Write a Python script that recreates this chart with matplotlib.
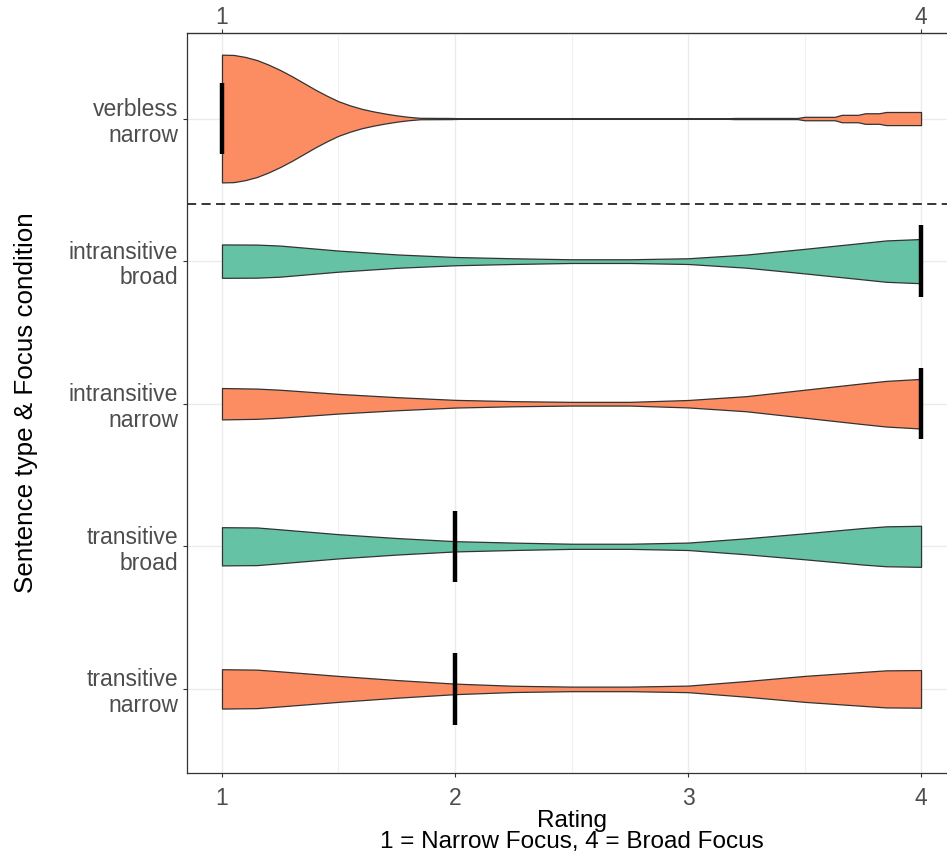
import numpy as np
import matplotlib.pyplot as plt

plt.rcParams['font.family'] = ['Liberation Sans', 'DejaVu Sans']

# categories, bottom to top
labels = ['transitive\nnarrow', 'transitive\nbroad', 'intransitive\nnarrow',
          'intransitive\nbroad', 'verbless\nnarrow']
focus = ['narrow', 'broad', 'narrow', 'broad', 'narrow']
medians = [2, 2, 4, 4, 1]

# violin half-widths (in category units) at these ratings
rating = [1.0, 1.15, 1.25, 1.5, 1.75, 2.0, 2.25, 2.5, 2.75, 3.0, 3.25, 3.5, 3.75, 3.85, 4.0]
trans_narrow = [0.138, 0.135, 0.123, 0.091, 0.062, 0.037, 0.022, 0.016, 0.016, 0.023, 0.055, 0.091, 0.119, 0.130, 0.132]
trans_broad = [0.134, 0.132, 0.119, 0.085, 0.058, 0.036, 0.026, 0.018, 0.018, 0.026, 0.056, 0.091, 0.128, 0.140, 0.144]
intr_narrow = [0.110, 0.106, 0.098, 0.069, 0.046, 0.027, 0.018, 0.013, 0.013, 0.026, 0.053, 0.098, 0.143, 0.160, 0.174]
intr_broad = [0.117, 0.116, 0.109, 0.074, 0.047, 0.029, 0.020, 0.013, 0.013, 0.020, 0.046, 0.086, 0.128, 0.145, 0.155]

# verbless is very skewed, so it gets its own grid
rating_vb = [1.0, 1.05, 1.1, 1.15, 1.2, 1.25, 1.3, 1.35, 1.4, 1.45, 1.5, 1.55, 1.6, 1.65,
             1.7, 1.75, 1.8, 1.85, 1.98, 2.05, 3.15, 3.2, 3.47, 3.5, 3.63, 3.66, 3.73, 3.76,
             3.82, 3.85, 4.0]
verbless = [0.448, 0.446, 0.432, 0.410, 0.378, 0.340, 0.297, 0.250, 0.203, 0.160, 0.121, 0.092,
            0.068, 0.050, 0.035, 0.022, 0.012, 0.005, 0.004, 0.001, 0.001, 0.004, 0.004, 0.012,
            0.012, 0.026, 0.026, 0.037, 0.037, 0.046, 0.046]

widths = [trans_narrow, trans_broad, intr_narrow, intr_broad]
colours = {'narrow': '#FC8D62', 'broad': '#66C2A5'}

fig = plt.figure(figsize=(9.47, 8.59), dpi=100)
ax = fig.add_axes([0.1975, 0.1001, 0.812, 0.8615])

for i in range(5):
    ypos = i + 1
    if i < 4:
        x = np.array(rating)
        h = np.array(widths[i])
    else:
        x = np.array(rating_vb)
        h = np.array(verbless)
    ax.fill_between(x, ypos - h, ypos + h, facecolor=colours[focus[i]],
                    edgecolor='#333333', linewidth=0.9, zorder=3)
    ax.plot([medians[i], medians[i]], [ypos - 0.25, ypos + 0.25], color='black',
            lw=3.2, solid_capstyle='butt', zorder=4)

ax.axhline(4.4, color='black', lw=1.1, ls=(0, (6, 3.5)), zorder=2)

ax.set_xlim(0.85, 4.15)
ax.set_ylim(0.41, 5.6)
ax.set_xticks([1, 2, 3, 4])
ax.set_xticks([1.5, 2.5, 3.5], minor=True)
ax.set_yticks(range(1, 6))
ax.set_yticklabels(labels, ha='right', linespacing=1.15)
ax.tick_params(axis='both', labelsize=16.5, labelcolor='#4D4D4D', color='#333333',
               length=3, width=0.8)
ax.tick_params(axis='x', pad=7)
ax.tick_params(axis='x', which='minor', length=0)
ax.grid(True, which='major', color='#EBEBEB', lw=1.0, zorder=0)
ax.grid(True, which='minor', axis='x', color='#F2F2F2', lw=0.8, zorder=0)
ax.set_axisbelow(True)
for side in ['left', 'bottom', 'top', 'right']:
    ax.spines[side].set_color('#333333')
    ax.spines[side].set_linewidth(0.9)

top = ax.secondary_xaxis('top')
top.set_xticks([1, 4])
top.tick_params(labelsize=16.5, labelcolor='#4D4D4D', color='#333333', length=3,
                width=0.8, pad=0)

ax.set_xlabel('Rating\n1 = Narrow Focus, 4 = Broad Focus', fontsize=17.5, color='black',
              linespacing=0.95, labelpad=0)
ax.set_ylabel('Sentence type & Focus condition', fontsize=18.7, color='black', labelpad=22)

fig.savefig('out.png', dpi=100)
